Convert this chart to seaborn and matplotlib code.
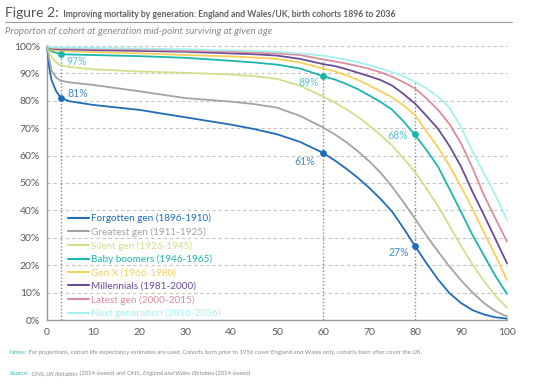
import numpy as np
import pandas as pd
import matplotlib
matplotlib.use("Agg")
import matplotlib.pyplot as plt
from matplotlib.lines import Line2D
import seaborn as sns

# ---------------- data ----------------
ages = [0, 0.5, 1, 2, 3, 5, 10, 20, 30, 40, 45, 50, 55, 60, 62.5, 65, 67.5, 70, 72.5, 75,
        77.5, 80, 82.5, 85, 87.5, 90, 92.5, 95, 97.5, 100]

forgotten = [100, 92, 87.5, 83.5, 81, 79.8, 78.5, 76.7, 74, 71.3, 69.7, 67.8, 65, 61, 58.3, 55.3, 52, 48.3, 44.2, 39.6,
             33.5, 27, 20.7, 14.8, 9.8, 6.2, 3.6, 2, 1, 0.5]
greatest  = [100, 95, 91, 88.5, 87.3, 86.7, 85.8, 83.5, 81, 79.7, 78.8, 77.5, 74.5, 70.3, 67.8, 65, 61.7, 58, 53.8, 48.7,
             43, 37, 30.8, 25, 19.5, 14.5, 10, 6.2, 3.2, 1.3]
silent    = [100, 97.5, 96, 94, 93, 92.3, 91.5, 90.7, 90.2, 89.6, 89, 88, 85.5, 81.6, 79.4, 77, 74.3, 71, 67.5, 63.7,
             59, 54, 48, 41.6, 34.3, 27, 20.3, 14.2, 8.8, 4.5]
boomers   = [100, 98.8, 98, 97.5, 97, 96.9, 96.7, 96.3, 95.7, 94.6, 94, 93.2, 91.8, 89, 87.8, 86.2, 84.3, 82, 79.6, 76.8,
             72.5, 67.5, 62, 56, 47.8, 39.5, 31, 23.5, 16, 9.5]
genx      = [100, 99.2, 98.5, 98.3, 98.2, 98.1, 97.8, 97.3, 96.7, 96.2, 95.8, 95.3, 94, 91.8, 90.8, 89.4, 87.7, 85.7, 83.5, 81.3,
             78.3, 74.8, 68.8, 63, 56.3, 48.7, 40.5, 32, 23.5, 14.6]
millenn   = [100, 99.5, 99, 98.9, 98.8, 98.7, 98.5, 98.2, 97.9, 97.3, 97, 96.5, 95.3, 93.4, 92.7, 91.6, 90.3, 89, 87.6, 85.6,
             82.5, 79, 74.5, 69.8, 63.5, 56, 46.8, 38.3, 29.5, 20.7]
latest    = [100, 99.6, 99.3, 99.2, 99.2, 99.1, 99, 98.7, 98.3, 97.9, 97.6, 97.3, 96.7, 95.1, 94.4, 93.6, 92.7, 91.7, 90.4, 88.8,
             86.8, 84.5, 80.9, 76.7, 71.5, 64.5, 55.5, 45.5, 37, 28.6]
nextgen   = [100, 99.7, 99.5, 99.5, 99.4, 99.4, 99.3, 99.1, 98.8, 98.4, 98.2, 97.9, 97.3, 96.5, 95.8, 95, 94.1, 93, 91.8, 90.5,
             88.9, 87, 84.5, 81.5, 77.5, 70.5, 61.5, 53.5, 45.5, 36.5]

labels = ["Forgotten gen (1896-1910)", "Greatest gen (1911-1925)", "Silent gen (1926-1945)",
          "Baby boomers (1946-1965)", "Gen X (1966-1980)", "Millennials (1981-2000)",
          "Latest gen (2000-2015)", "Next generation (2016-2036)"]
series = [forgotten, greatest, silent, boomers, genx, millenn, latest, nextgen]

marker_ages = [3, 60, 80]
marker_forgotten = [81, 61, 27]
marker_boomers = [97, 89, 68]

colors = ["#1f6db8", "#a3a3a3", "#cfe08c", "#1cb5ae", "#f6d05a", "#6b4c9a", "#dc8d9c", "#a6f0f0"]

# ---------------- figure ----------------
sns.set_theme(style="white")
plt.rcParams["font.family"] = ["Lato", "DejaVu Sans"]

fig = plt.figure(figsize=(5.35, 3.85), dpi=100)
ax = fig.add_axes([47/535, 65/385, 460/535, 274/385])

rows = []
for lab, vals in zip(labels, series):
    for a, v in zip(ages, vals):
        rows.append((lab, a, v))
df = pd.DataFrame(rows, columns=["gen", "age", "pct"])

# vertical dotted reference lines (up to top curve)
for a in marker_ages:
    top = np.interp(a, ages, nextgen)
    ax.plot([a, a], [0, top], color="#8a8a8a", lw=1.0, ls=(0, (1, 1.5)), zorder=1)

# horizontal dashed grid
for yv in range(10, 101, 10):
    ax.axhline(yv, color="#c4c4c4", lw=0.8, ls=(0, (3, 2.5)), zorder=0)

sns.lineplot(data=df, x="age", y="pct", hue="gen", hue_order=labels,
             palette=dict(zip(labels, colors)), estimator=None, sort=True,
             lw=1.3, ax=ax, legend=False, zorder=3)
for ln in ax.get_lines():
    ln.set_clip_on(False)
    ln.set_solid_joinstyle("round")

# markers and annotations
ax.scatter(marker_ages, marker_forgotten, s=24, color=colors[0], zorder=5, clip_on=False, linewidths=0)
ax.scatter(marker_ages, marker_boomers, s=24, color=colors[3], zorder=5, clip_on=False, linewidths=0)

blue_lab = "#4a8cc8"
teal_lab = "#5cc4cf"
offs_f = [((5, 3.6), "left"), ((-5.8, -6.5), "right"), ((-4.3, -5), "right")]
offs_b = [((4.3, -5.6), "left"), ((-3, -4.3), "right"), ((-5, -1), "right")]
for a, v, (o, ha) in zip(marker_ages, marker_forgotten, offs_f):
    ax.annotate(f"{v}%", (a, v), xytext=o, textcoords="offset points", ha=ha, va="center",
                fontsize=7.6, color=blue_lab)
for a, v, (o, ha) in zip(marker_ages, marker_boomers, offs_b):
    ax.annotate(f"{v}%", (a, v), xytext=o, textcoords="offset points", ha=ha, va="center",
                fontsize=7.6, color=teal_lab)

ax.set_xlim(0, 100)
ax.set_ylim(0, 100)
ax.set_xticks(range(0, 101, 10))
ax.set_yticks(range(0, 101, 10))
ax.set_yticklabels([f"{v}%" for v in range(0, 101, 10)])
ax.set_xlabel("")
ax.set_ylabel("")
ax.tick_params(axis="both", labelsize=7.5, colors="#5a5a5a", length=3, width=0.8, pad=2)
ax.tick_params(axis="x", pad=3)
for s in ["top", "right"]:
    ax.spines[s].set_visible(False)
for s in ["left", "bottom"]:
    ax.spines[s].set_color("#9a9a9a")
    ax.spines[s].set_linewidth(1.0)

# legend
handles = [Line2D([0], [0], color=c, lw=1.5) for c in colors]
leg = ax.legend(handles, labels, loc="upper left", bbox_to_anchor=(0.046, 0.388),
                frameon=False, fontsize=7.2, handlelength=2.1, handletextpad=0.2,
                labelspacing=0.42, borderaxespad=0, borderpad=0, labelcolor="linecolor")


def chain(x_px, base_px, parts):
    renderer = fig.canvas.get_renderer()
    x = x_px / 535
    y = 1 - base_px / 385
    for txt, kw in parts:
        t = fig.text(x, y, txt, va="baseline", ha="left", **kw)
        bb = t.get_window_extent(renderer)
        x = fig.transFigure.inverted().transform((bb.x1, bb.y0))[0]


grey = "#8a8a8a"
teal_note = "#3fb8c0"
chain(5, 17, [("Figure 2:", dict(fontsize=10, color="#555555")),
              ("  Improving mortality by generation: England and Wales/UK, birth cohorts 1896 to 2036",
               dict(fontsize=6.2, fontweight="bold", color="#5f5f5f"))])
fig.add_artist(Line2D([5/535, 512/535], [1 - 22/385, 1 - 22/385], color="#9a9a9a", lw=0.8))
fig.text(5/535, 1 - 32/385, "Proporton of cohort at generation mid-point surviving at given age",
         fontsize=7, style="italic", color=grey, va="center")

fs = 4.35
chain(10, 354, [("Notes:", dict(fontsize=fs, color=teal_note)),
                (" For projections, cohort life expectancy estimates are used. Cohorts born prior to 1956 cover England and Wales only, cohorts born after cover the UK.",
                 dict(fontsize=fs, color=grey))])
chain(10, 375, [("Source:", dict(fontsize=fs, color=teal_note)),
                (" ONS, ", dict(fontsize=fs, color=grey)),
                ("UK lifetables", dict(fontsize=fs, color=grey, style="italic")),
                (" (2014-based) and ONS, ", dict(fontsize=fs, color=grey)),
                ("England and Wales lifetables", dict(fontsize=fs, color=grey, style="italic")),
                (" (2014-based)", dict(fontsize=fs, color=grey))])

fig.savefig("out.png", dpi=100)
